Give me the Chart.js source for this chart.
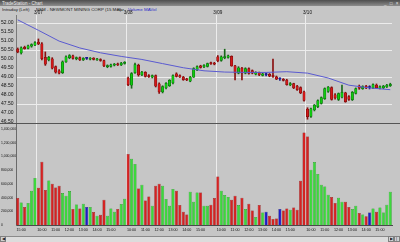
<!DOCTYPE html>
<html>
<head>
<meta charset="utf-8">
<script src="https://cdn.jsdelivr.net/npm/chart.js@4.4.1/dist/chart.umd.min.js"></script>
<style>
  body { margin:0; width:400px; height:242px; overflow:hidden; position:relative;
         background:#c6c6c6; font-family:'Liberation Sans', Arial, sans-serif; }
  .abs { position:absolute; white-space:nowrap; }
  .tiny { transform:scale(0.5); transform-origin:0 0; }
  #titlebar { left:0; top:0; width:400px; height:6px; background:linear-gradient(#4e4e4e,#8c8c8c); }
  #titlebar span { font-size:9px; line-height:12px; color:#e8e8e8; }
  .hd { top:6.5px; font-size:8.8px; line-height:11px; color:#1a1a1a; }
  #sep { left:0; top:123px; width:400px; height:1px; background:#555; }
  #scroll { left:0; top:236px; width:400px; height:6px; background:#dcdcdc; border-top:1px solid #8a8a8a; box-sizing:border-box; }
  .btn { top:236px; height:6px; width:6px; background:#d0d0d0; border:1px solid #808080; box-sizing:border-box; }
  .btn span { font-size:8px; line-height:8px; color:#222; left:1px; top:0; }
  canvas { position:absolute; left:0; }
</style>
</head>
<body>
<div id="titlebar" class="abs">
  <span class="abs tiny" style="left:2px;top:0">TradeStation - Chart</span>
  <span class="abs tiny" style="left:384px;top:0;letter-spacing:2px">_ &#9633; &#215;</span>
</div>
<span class="abs hd tiny" style="left:2px">Intraday (Left)</span>
<span class="abs hd tiny" style="left:36px">NEM - NEWMONT MINING CORP (15 Min)</span>
<span class="abs hd tiny" style="left:117px">Bar</span>
<span class="abs hd tiny" style="left:128px;color:#2a2ac8">Volume</span>
<span class="abs hd tiny" style="left:144px;color:#2a2ac8">MAVol</span>

<canvas id="priceChart" width="400" height="117" style="top:6px"></canvas>
<div id="sep" class="abs"></div>
<canvas id="volumeChart" width="400" height="112" style="top:124px"></canvas>

<div id="scroll" class="abs"></div>
<div class="abs btn" style="left:0"><span class="abs tiny">&#9664;</span></div>
<div class="abs btn" style="left:388px"><span class="abs tiny">&#9654;</span></div>
<div class="abs btn" style="left:394px"><span class="abs tiny">|</span></div>

<script>
// session layout (15 min bars, labelled by bar end time)
const sessionTimes = ['9:45','10:00','10:15','10:30','10:45','11:00','11:15','11:30','11:45','12:00','12:15','12:30','12:45',
                      '13:00','13:15','13:30','13:45','14:00','14:15','14:30','14:45','15:00','15:15','15:30','15:45','16:00'];
const dayDates = ['3/06', '3/07', '3/08', '3/09', '3/10'];
const dayFirstSlot = [20, 0, 0, 0, 0];
const dayBarCount = [6, 26, 26, 26, 25];

// OHLC per bar
const open = [50.55,50.35,50.66,50.60,50.72,50.78,
  50.95,50.85,50.10,49.95,50.02,49.58,49.35,49.25,49.85,50.08,50.18,50.02,50.08,49.96,50.04,50.00,50.06,49.96,49.98,49.92,49.58,49.60,49.66,49.74,49.68,49.76,
  48.95,48.55,49.25,49.65,49.12,49.26,49.08,49.00,49.08,48.62,48.18,48.40,48.52,48.68,49.18,49.08,49.00,48.90,48.78,49.00,49.40,49.62,49.56,49.60,49.80,49.78,
  50.12,49.92,50.08,50.10,50.15,49.62,49.22,49.50,49.22,49.48,49.36,49.16,49.26,49.10,49.14,49.16,49.10,49.02,48.90,48.88,48.84,48.56,48.64,48.50,48.42,48.18,
  47.22,46.82,47.18,47.36,47.54,47.80,48.20,48.42,48.02,47.76,47.88,48.12,47.92,47.74,48.10,48.50,48.36,48.50,48.42,48.40,48.56,48.38,48.40,48.46,48.52];
const high = [50.62,50.68,50.72,50.78,50.85,50.98,
  51.12,50.92,50.40,50.15,50.08,49.62,49.42,49.90,50.18,50.25,50.22,50.12,50.12,50.08,50.10,50.08,50.08,50.04,50.02,49.95,49.68,49.72,49.76,49.78,49.82,49.86,
  49.00,49.25,49.78,49.72,49.32,49.30,49.14,49.12,49.12,48.68,48.52,48.70,48.86,49.12,49.24,49.12,49.04,48.94,49.04,49.52,49.62,49.66,49.70,49.78,49.84,49.82,
  50.20,50.18,50.55,50.22,50.18,49.65,49.58,49.54,49.52,49.52,49.40,49.30,49.28,49.22,49.22,49.20,50.00,49.06,48.96,48.92,48.88,48.70,48.66,48.54,48.46,48.22,
  47.30,47.28,47.48,47.74,47.90,48.40,48.48,48.46,48.08,48.12,48.55,48.16,47.98,48.20,48.40,48.56,48.52,48.54,48.52,48.62,48.62,48.52,48.54,48.60,48.66];
const low = [50.35,50.28,50.55,50.56,50.66,50.74,
  50.80,49.95,49.65,49.90,49.45,49.22,49.18,49.20,49.82,50.02,50.00,49.96,49.92,49.92,49.98,49.95,49.95,49.92,49.88,49.58,49.52,49.55,49.62,49.64,49.64,49.72,
  48.52,48.38,49.20,49.05,49.08,49.00,48.98,48.95,48.45,48.10,48.12,48.35,48.48,48.62,49.00,48.98,48.82,48.80,48.74,48.98,49.36,49.50,49.52,49.56,49.70,49.68,
  49.85,49.88,50.02,50.05,49.60,48.85,49.18,48.85,49.18,49.16,49.18,49.12,49.08,49.06,49.06,49.02,48.98,48.86,48.82,48.78,48.55,48.52,48.36,48.26,48.08,47.66,
  46.66,46.76,47.12,47.30,47.50,47.76,48.15,47.72,47.78,47.70,47.84,47.60,47.70,47.70,48.06,48.32,48.32,48.36,48.34,48.36,48.36,48.34,48.36,48.42,48.48];
const close = [50.40,50.62,50.58,50.74,50.80,50.92,
  50.85,50.02,49.72,50.10,49.50,49.28,49.22,49.85,50.12,50.20,50.04,50.08,49.96,50.04,50.04,50.06,49.98,50.00,49.92,49.62,49.64,49.68,49.72,49.68,49.78,49.82,
  48.58,49.20,49.70,49.12,49.28,49.04,49.02,49.08,48.50,48.18,48.48,48.66,48.82,49.08,49.04,49.00,48.86,48.84,49.00,49.48,49.58,49.54,49.66,49.75,49.74,49.72,
  49.90,50.12,50.14,50.18,49.62,49.22,49.52,49.22,49.48,49.20,49.22,49.26,49.12,49.18,49.14,49.05,49.02,48.88,48.90,48.82,48.58,48.64,48.40,48.30,48.12,47.70,
  46.80,47.24,47.44,47.70,47.86,48.36,48.44,47.76,47.84,48.08,48.16,47.64,47.76,48.16,48.36,48.38,48.48,48.40,48.42,48.58,48.40,48.48,48.50,48.56,48.60];
const volume = [394000,330000,263000,321000,500000,686000,
  545000,924000,511000,651000,603000,549000,574000,467000,428000,496000,234000,301000,242000,311000,263000,263000,190000,136000,150000,369000,136000,242000,194000,234000,307000,384000,
  1037000,968000,890000,534000,588000,359000,418000,282000,574000,603000,574000,380000,282000,526000,500000,292000,194000,155000,486000,340000,476000,476000,282000,282000,296000,394000,
  710000,500000,438000,409000,369000,428000,292000,399000,234000,311000,213000,117000,292000,184000,194000,136000,88000,96000,234000,213000,242000,223000,257000,223000,647000,1352000,
  1294000,807000,920000,745000,588000,564000,442000,409000,321000,399000,340000,340000,263000,234000,282000,175000,155000,126000,184000,242000,194000,257000,184000,296000,486000];

// price moving average at these bars
const maBars   = [0, 6, 12, 18, 24, 30, 36, 42, 48, 54, 60, 66, 72, 78, 84, 90, 96, 102, 108];
const maValues = [52.18, 51.60, 51.00, 50.62, 50.35, 50.15, 49.98, 49.75, 49.52, 49.35, 49.28, 49.26, 49.26, 49.30, 49.22, 48.95, 48.55, 48.40, 48.30];

const priceTicks = [46.5, 47, 47.5, 48, 48.5, 49, 49.5, 50, 50.5, 51, 51.5, 52];
const priceGrid = [47.5, 49, 50.5, 52];
const volumeTicks = [0, 200000, 400000, 600000, 800000, 1000000, 1200000, 1400000];

// labels
const barDate = [], barTime = [], dayStart = [];
dayDates.forEach((d, k) => {
  for (let j = 0; j < dayBarCount[k]; j++) {
    const slot = dayFirstSlot[k] + j;
    barDate.push(d);
    barTime.push(sessionTimes[slot]);
    dayStart.push(slot === 0);
  }
});
const labels = barDate.map((d, i) => d + ' ' + barTime[i]);
const ma = labels.map(() => null);
maBars.forEach((b, k) => { ma[b] = maValues[k]; });

const UP = '#10c810', DOWN = '#d01818', FLAT = '#1c1cc8';
const dir = open.map((o, i) => close[i] > o ? 1 : close[i] < o ? -1 : 0);
const pick = (d, u, dn, f) => d > 0 ? u : d < 0 ? dn : f;

const dayGrid = c => (c.tick && dayStart[c.index]) ? '#ececec' : 'rgba(0,0,0,0)';
const noPad = s => { s.paddingTop = 0; s.paddingBottom = 0; s.paddingLeft = 0; s.paddingRight = 0; };
const font = size => ({ family: "'Liberation Sans', Arial, sans-serif", size: size });

new Chart(document.getElementById('priceChart'), {
  data: {
    labels: labels,
    datasets: [
      { type: 'line', data: ma, borderColor: '#5a5ad0', borderWidth: 1, pointRadius: 0, spanGaps: true, order: 0 },
      { type: 'bar', data: open.map((o, i) => [o, close[i]]), grouped: false, barThickness: 2.4, minBarLength: 1,
        backgroundColor: dir.map(d => pick(d, UP, DOWN, FLAT)),
        borderColor: dir.map(d => pick(d, '#066006', '#6a0808', '#101070')), borderWidth: 0.5, borderSkipped: false, order: 1 },
      { type: 'bar', data: low.map((l, i) => [l, high[i]]), grouped: false, barThickness: 1,
        backgroundColor: dir.map(d => pick(d, '#1a6a1a', '#8a1010', '#202080')), order: 2 }
    ]
  },
  options: {
    responsive: false, animation: false, events: [],
    layout: { padding: { left: 1, right: 8, top: 0, bottom: 0 } },
    plugins: { legend: { display: false }, tooltip: { enabled: false } },
    scales: {
      x: {
        position: 'top', offset: true,
        grid: { offset: true, color: dayGrid, drawTicks: false },
        border: { display: false },
        ticks: { autoSkip: false, maxRotation: 0, minRotation: 0, padding: 0, color: '#111', font: font(4.6),
                 callback: (v, i) => dayStart[i] ? barDate[i] : '' },
        afterFit: s => { s.height = 9; noPad(s); }
      },
      y: {
        min: 46.45, max: 52.45,
        afterBuildTicks: s => { s.ticks = priceTicks.map(v => ({ value: v })); },
        grid: { color: c => (c.tick && priceGrid.some(p => Math.abs(p - c.tick.value) < 1e-6)) ? '#ececec' : 'rgba(0,0,0,0)', drawTicks: false },
        border: { display: true, color: '#7a7a7a' },
        ticks: { crossAlign: 'far', color: '#111', font: font(5), callback: v => v.toFixed(2) },
        afterFit: s => { s.width = 15; noPad(s); }
      }
    }
  }
});

new Chart(document.getElementById('volumeChart'), {
  type: 'bar',
  data: {
    labels: labels,
    datasets: [{
      data: volume, barPercentage: 0.88, categoryPercentage: 1,
      backgroundColor: dir.map(d => pick(d, '#3cd83c', '#d42222', '#1c1cc8')),
      borderColor: dir.map(d => pick(d, '#138a13', '#861010', '#0c0c70')), borderWidth: 0.5, borderSkipped: 'bottom'
    }]
  },
  options: {
    responsive: false, animation: false, events: [],
    layout: { padding: { left: 1, right: 8, top: 0, bottom: 0 } },
    plugins: { legend: { display: false }, tooltip: { enabled: false } },
    scales: {
      x: {
        offset: true,
        grid: { offset: true, color: dayGrid, drawTicks: false },
        border: { display: true, color: '#4a4a4a' },
        ticks: { autoSkip: false, maxRotation: 0, minRotation: 0, padding: 3, color: '#111', font: font(3.7),
                 callback: (v, i) => (barTime[i].endsWith(':00') && barTime[i] !== '16:00') ? barTime[i] : '' },
        afterFit: s => { s.height = 11; noPad(s); }
      },
      y: {
        min: 0, max: 1475000,
        afterBuildTicks: s => { s.ticks = volumeTicks.map(v => ({ value: v })); },
        grid: { display: false },
        border: { display: true, color: '#6a6a6a' },
        ticks: { crossAlign: 'far', color: '#111', font: font(3.4), callback: v => v.toLocaleString('en-US') },
        afterFit: s => { s.width = 15; noPad(s); }
      }
    }
  }
});
</script>
</body>
</html>
